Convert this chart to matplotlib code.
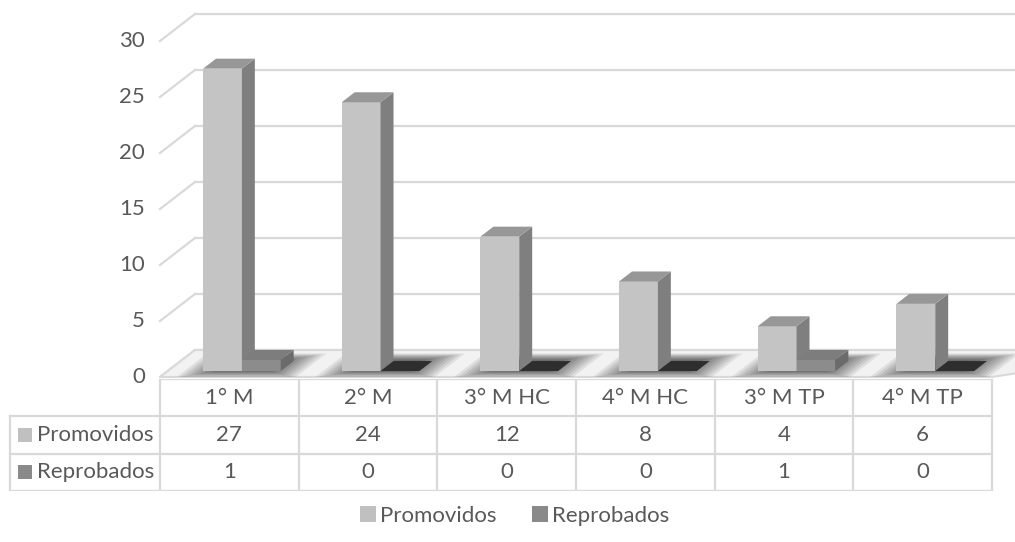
import numpy as np
import matplotlib.pyplot as plt
from matplotlib.patches import Polygon, Patch, Rectangle

categorias = ["1° M", "2° M", "3° M HC", "4° M HC", "3° M TP", "4° M TP"]
promovidos = [27, 24, 12, 8, 4, 6]
reprobados = [1, 0, 0, 0, 1, 0]
series = ["Promovidos", "Reprobados"]
yticks = [0, 5, 10, 15, 20, 25, 30]

plt.rcParams["font.family"] = ["Lato", "DejaVu Sans"]
TXT = "#595959"
GRID = "#d9d9d9"

W, H = 1015, 542
fig = plt.figure(figsize=(W / 100, H / 100), dpi=100)

# pixel scale of the fake 3d box
PX_X = 138.67   # px per category
PX_Y = 11.2     # px per unit value
x0_px, y0_px = 160, 377
DX, DY = 35 / PX_X, 27 / PX_Y   # depth vector (z = 0 front, z = 1 back)

ax = fig.add_axes([0, 0, 1, 1])
ax.set_xlim(-0.5 - x0_px / PX_X, -0.5 + (W - x0_px) / PX_X)
ax.set_ylim(-(H - y0_px) / PX_Y, y0_px / PX_Y)
ax.axis("off")


def proj(x, v, z):
    return x + z * DX, v + z * DY


# walls: left side + back gridlines
for v in yticks:
    p0, p1 = proj(-0.5, v, 0), proj(-0.5, v, 1)
    ax.plot([p0[0], p1[0]], [p0[1], p1[1]], color=GRID, lw=1.6, zorder=1)
    p2 = proj(6.5, v, 1)
    ax.plot([p1[0], p2[0]], [p1[1], p2[1]], color=GRID, lw=1.6, zorder=1)
    ax.text(-0.5 - 15 / PX_X, v, str(v), ha="right", va="center",
            fontsize=16, color=TXT)

# floor
floor = [proj(-0.5, 0, 0), proj(5.5, 0, 0), proj(6.5, 0, 1), proj(-0.5, 0, 1)]
ax.add_patch(Polygon(floor, closed=True, fc="#f2f2f2", ec=GRID, lw=1.5, zorder=2))

# soft shadows under each cluster
for i in range(len(categorias)):
    for s in np.linspace(1.0, 0.3, 12):
        hx, hz = 0.43 * s, 0.45 * s
        cx, cz = i + 0.05, 0.42
        shp = [proj(cx - hx, 0, max(cz - hz, 0)), proj(cx + hx, 0, max(cz - hz, 0)),
               proj(cx + hx, 0, min(cz + hz, 1)), proj(cx - hx, 0, min(cz + hz, 1))]
        ax.add_patch(Polygon(shp, closed=True, fc="black", ec="none",
                             alpha=0.08, zorder=3))

# bars
Z0, Z1 = 0.22, 0.59
w = 0.28
offsets = [-0.245, 0.035]
front_c = ["#c4c4c4", "#8c8c8c"]
side_c = ["#7f7f7f", "#6b6b6b"]
top_c = ["#979797", "#7d7d7d"]
x = np.arange(len(categorias))
for i in range(len(categorias)):
    for k, vals in enumerate([promovidos, reprobados]):
        v = vals[i]
        left = x[i] + offsets[k]
        fx, fy = proj(left, 0, Z0)
        ax.bar(fx, v, width=w, bottom=fy, align="edge", color=front_c[k],
               edgecolor="none", zorder=5 + i * 2 + k)
        side = [proj(left + w, 0, Z0), proj(left + w, 0, Z1),
                proj(left + w, v, Z1), proj(left + w, v, Z0)]
        top = [proj(left, v, Z0), proj(left + w, v, Z0),
               proj(left + w, v, Z1), proj(left, v, Z1)]
        tc = "#2e2e2e" if v == 0 else top_c[k]
        ax.add_patch(Polygon(side, closed=True, fc=side_c[k], ec="none",
                             zorder=5 + i * 2 + k))
        ax.add_patch(Polygon(top, closed=True, fc=tc, ec="none",
                             zorder=5 + i * 2 + k))

# data table
tb_top, tb_bot = 379, 491
tax = fig.add_axes([0, 1 - tb_bot / H, 1, (tb_bot - tb_top) / H])
tax.set_xlim(ax.get_xlim())
tax.set_ylim(3, 0)
tax.axis("off")
lab_left = -0.5 - 150 / PX_X
tax.plot([-0.5, 5.5], [0, 0], color=GRID, lw=1.6)
for r in [1, 2, 3]:
    tax.plot([lab_left, 5.5], [r, r], color=GRID, lw=1.6)
tax.plot([lab_left, lab_left], [1, 3], color=GRID, lw=1.6)
for c in range(7):
    tax.plot([c - 0.5, c - 0.5], [0, 3], color=GRID, lw=1.6)
for i, cat in enumerate(categorias):
    tax.text(i, 0.5, cat, ha="center", va="center", fontsize=16, color=TXT)
    tax.text(i, 1.5, str(promovidos[i]), ha="center", va="center", fontsize=16, color=TXT)
    tax.text(i, 2.5, str(reprobados[i]), ha="center", va="center", fontsize=16, color=TXT)
for k, name in enumerate(series):
    sq = 14 / PX_X
    tax.add_patch(Rectangle((lab_left + 8 / PX_X, 1.5 + k - 0.19), sq, 0.38,
                            fc=["#c0c0c0", "#8a8a8a"][k], ec="none"))
    tax.text(lab_left + 27 / PX_X, 1.5 + k, name, ha="left", va="center",
             fontsize=16, color=TXT)

handles = [Patch(fc="#c0c0c0", ec="none"), Patch(fc="#8a8a8a", ec="none")]
fig.legend(handles, series, loc="center", bbox_to_anchor=(515 / W, 1 - 516 / H),
           ncol=2, frameon=False, fontsize=16, labelcolor=TXT,
           handlelength=0.7, handleheight=0.7, handletextpad=0.2,
           columnspacing=1.6)

fig.savefig("out.png", dpi=100)
